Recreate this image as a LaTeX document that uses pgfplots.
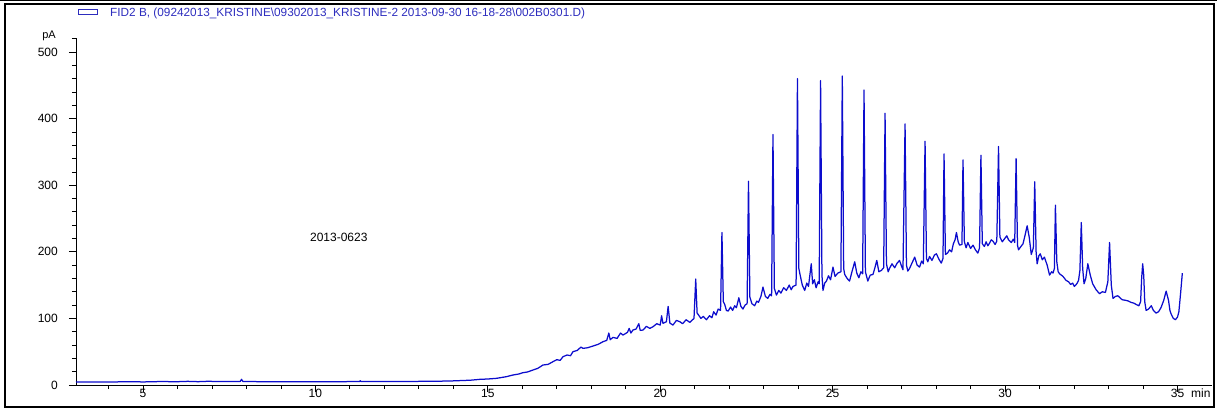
\documentclass[border=0pt]{standalone}
\usepackage{pgfplots}
\pgfplotsset{compat=1.18}
\usepackage{fontspec}
\setmainfont{Liberation Sans}
\definecolor{trace}{RGB}{12,12,205}
\definecolor{legendblue}{RGB}{45,45,190}

% FID2 B signal, pA against retention time in min
\pgfplotstableread{
t     pA
3.06  4.5
3.50  4.6
4.00  4.5
4.70  5.0
5.00  4.6
5.60  5.3
5.90  4.8
6.30  5.5
6.60  5.0
6.90  5.6
7.20  5.1
7.60  5.4
7.82  5.2
7.86  8.5
7.90  5.2
8.50  5.0
9.50  5.0
10.00 5.0
11.28 5.1
11.30 6.5
11.33 5.1
12.50 5.3
13.50 5.6
14.00 6.2
14.50 7.2
14.77 8.5
15.00 9.0
15.25 10.0
15.54 12.5
15.73 15.0
15.90 16.5
16.02 18.5
16.15 19.5
16.31 22.5
16.45 25.0
16.60 30.0
16.75 31.0
16.89 35.0
17.00 38.0
17.10 37.0
17.18 42.5
17.30 45.0
17.40 44.0
17.47 50.0
17.60 52.0
17.70 57.0
17.76 55.0
17.90 56.0
18.05 58.5
18.20 61.0
18.34 65.0
18.45 67.0
18.51 78.0
18.55 68.0
18.63 71.5
18.75 70.0
18.85 78.0
18.92 75.0
19.05 79.0
19.10 85.0
19.15 78.0
19.21 82.5
19.30 84.0
19.38 92.0
19.42 82.0
19.50 82.5
19.60 88.0
19.70 85.0
19.79 87.5
19.90 92.0
20.00 90.0
20.04 104.0
20.08 92.5
20.18 95.0
20.23 118.0
20.28 93.0
20.37 90.0
20.47 97.0
20.57 95.0
20.65 92.0
20.75 98.0
20.86 94.0
20.98 100.0
21.03 159.0
21.07 108.0
21.10 106.0
21.18 100.0
21.25 103.0
21.34 98.0
21.43 104.0
21.50 101.0
21.55 110.0
21.62 105.0
21.68 114.0
21.75 112.0
21.79 229.0
21.83 125.0
21.87 121.0
21.92 112.0
21.97 111.0
22.04 117.0
22.10 112.0
22.16 119.0
22.21 116.0
22.28 131.0
22.34 118.0
22.40 114.0
22.46 120.0
22.52 122.0
22.56 306.0
22.60 132.0
22.66 122.0
22.74 119.0
22.80 126.0
22.85 124.0
22.92 133.0
22.98 147.0
23.05 133.0
23.12 130.0
23.18 136.0
23.23 134.0
23.27 376.0
23.31 145.0
23.37 135.0
23.44 142.0
23.50 138.0
23.58 146.0
23.66 142.0
23.74 150.0
23.80 143.0
23.85 148.0
23.94 150.0
23.98 460.0
24.02 175.0
24.05 167.0
24.12 150.0
24.19 142.0
24.25 153.0
24.30 148.0
24.38 182.0
24.42 152.0
24.47 158.0
24.52 146.0
24.58 155.0
24.61 152.0
24.65 457.0
24.69 165.0
24.72 142.0
24.77 153.0
24.82 156.0
24.88 164.0
24.94 158.0
25.01 177.0
25.07 163.0
25.15 168.0
25.24 170.0
25.28 464.0
25.32 175.0
25.35 166.0
25.42 160.0
25.49 156.0
25.56 170.0
25.64 185.0
25.70 168.0
25.76 161.0
25.82 170.0
25.87 167.0
25.91 443.0
25.95 170.0
26.02 156.0
26.09 165.0
26.17 166.0
26.22 175.0
26.28 187.0
26.34 170.0
26.41 172.0
26.48 176.0
26.52 408.0
26.56 182.0
26.61 170.0
26.65 175.0
26.72 182.0
26.80 176.0
26.87 183.0
26.94 187.0
27.00 178.0
27.04 173.0
27.10 392.0
27.14 180.0
27.18 171.0
27.23 175.0
27.30 183.0
27.38 192.0
27.45 180.0
27.52 177.0
27.58 186.0
27.63 182.0
27.68 366.0
27.72 190.0
27.76 185.0
27.81 193.0
27.88 187.0
27.95 195.0
28.01 197.0
28.08 189.0
28.15 183.0
28.20 190.0
28.23 347.0
28.27 196.0
28.33 198.0
28.39 203.0
28.45 200.0
28.50 212.0
28.55 218.0
28.59 229.0
28.64 215.0
28.68 210.0
28.75 211.0
28.78 338.0
28.82 215.0
28.87 206.0
28.92 214.0
29.00 205.0
29.07 210.0
29.14 203.0
29.21 198.0
29.26 206.0
29.30 345.0
29.34 212.0
29.40 208.0
29.45 215.0
29.50 209.0
29.55 213.0
29.60 218.0
29.65 216.0
29.71 211.0
29.76 216.0
29.81 358.0
29.85 222.0
29.92 215.0
29.99 220.0
30.05 224.0
30.10 218.0
30.18 214.0
30.24 219.0
30.28 214.0
30.32 340.0
30.36 210.0
30.39 203.0
30.46 208.0
30.52 212.0
30.58 225.0
30.64 239.0
30.70 222.0
30.76 196.0
30.82 206.0
30.86 305.0
30.90 200.0
30.93 182.0
30.98 194.0
31.02 197.0
31.08 188.0
31.14 192.0
31.22 180.0
31.29 165.0
31.35 170.0
31.39 168.0
31.43 175.0
31.46 270.0
31.50 185.0
31.54 170.0
31.58 167.0
31.68 163.0
31.77 157.0
31.84 155.0
31.90 151.0
31.96 153.0
32.01 148.0
32.08 152.0
32.13 157.0
32.17 172.0
32.21 244.0
32.25 175.0
32.29 152.0
32.34 160.0
32.40 182.0
32.47 165.0
32.54 152.0
32.64 143.0
32.74 137.0
32.82 140.0
32.91 139.0
32.98 155.0
33.03 214.0
33.08 150.0
33.13 130.0
33.20 133.0
33.27 134.0
33.35 130.0
33.40 128.0
33.51 127.0
33.58 126.0
33.65 124.0
33.73 123.0
33.80 121.0
33.88 119.0
33.93 125.0
33.96 160.0
33.99 182.0
34.02 165.0
34.05 125.0
34.09 112.0
34.16 114.0
34.24 119.0
34.30 112.0
34.38 108.0
34.45 110.0
34.52 116.0
34.60 127.0
34.67 141.0
34.74 127.0
34.78 112.0
34.82 106.0
34.88 100.0
34.94 98.0
35.00 102.0
35.04 110.0
35.09 138.0
35.14 168.0
}\fidtrace

\begin{document}
\begin{tikzpicture}[x=1pt,y=1pt]
\path[use as bounding box] (0,0) rectangle (1217,410);
% outer frame of the report page
\draw[line width=1.2pt] (0,409.4) -- (1217,409.4);
\begin{axis}[
  at={(76pt,25pt)}, anchor=south west,
  scale only axis, width=1136pt, height=347pt,
  xmin=3.06, xmax=36, ymin=0, ymax=521,
  axis lines*=left,
  axis line style={black, line width=0.8pt},
  xtick={5,10,...,35}, minor xtick={4,5,...,35},
  ytick={0,100,...,500}, minor ytick={20,40,...,520},
  tick align=outside,
  major tick length=7pt, minor tick length=4pt,
  every tick/.append style={black, line width=0.8pt},
  every minor tick/.append style={black, line width=0.7pt},
  tick label style={font=\fontsize{12}{12}\selectfont},
  /pgf/number format/assume math mode=true,
  xticklabel style={inner sep=0pt, yshift=3pt},
  yticklabel style={inner sep=0pt, xshift=-11pt},
  clip=false,
]
\addplot[trace, line width=1.25pt, line join=round] table[x=t, y=pA] {\fidtrace};
\node[font=\fontsize{12}{12}\selectfont] at (axis cs:10.68,221) {2013-0623};
\end{axis}
\node[anchor=east, inner sep=0pt, font=\fontsize{11}{11}\selectfont] at (56,374) {pA};
\node[anchor=base west, inner sep=0pt, font=\fontsize{12}{12}\selectfont] at (1191,13) {min};
% legend entry
\draw[legendblue, line width=0.9pt] (78,395.5) rectangle (97,401);
\node[anchor=base west, inner sep=0pt, text=legendblue, font=\fontsize{11.8}{12}\selectfont]
  at (110,393.3) {FID2 B, (09242013\_KRISTINE\textbackslash 09302013\_KRISTINE-2 2013-09-30 16-18-28\textbackslash 002B0301.D)};
\draw[line width=1.4pt] (5,3) rectangle (1214,406);
\end{tikzpicture}
\end{document}
